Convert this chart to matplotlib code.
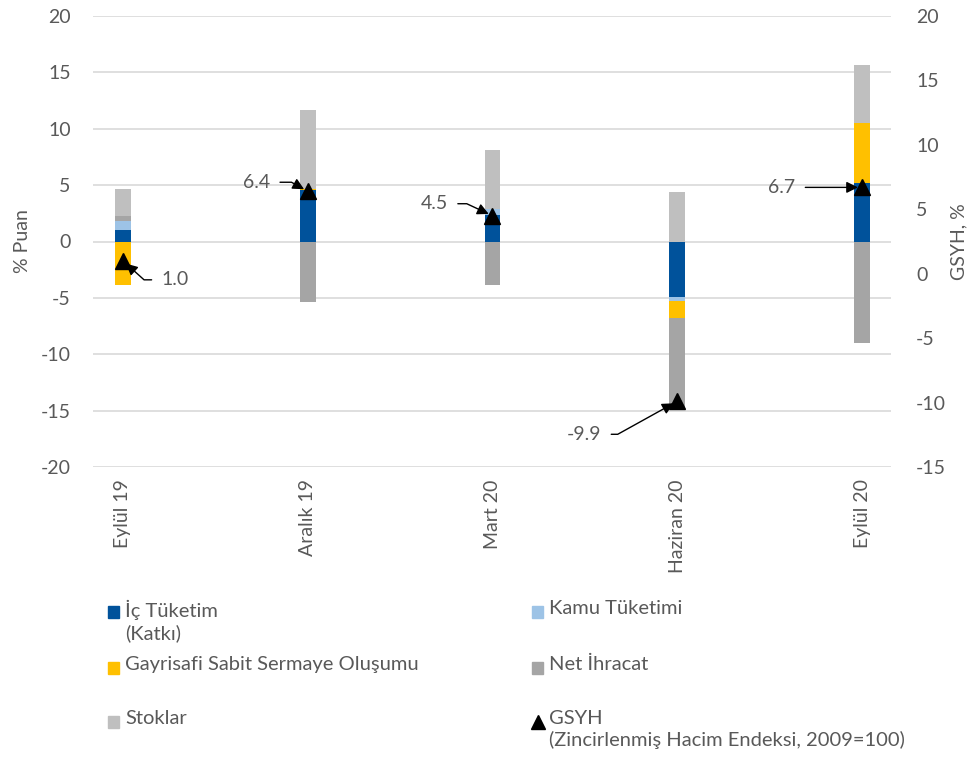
import matplotlib
matplotlib.use("Agg")
import matplotlib.pyplot as plt
from matplotlib.patches import Rectangle
from matplotlib.lines import Line2D
import numpy as np

plt.rcParams['font.family'] = ['Lato', 'DejaVu Sans']
plt.rcParams['axes.unicode_minus'] = False

# Quarterly contributions to GDP growth (percentage points)
categories = ["Eylül 19", "Aralık 19", "Mart 20", "Haziran 20", "Eylül 20"]
ic_tuketim = [1.0, 4.55, 2.35, -4.95, 5.2]
kamu_tuketimi = [0.8, 0.0, 0.5, -0.3, 0.0]
gsso = [-3.85, 0.15, 0.0, -1.5, 5.35]
net_ihracat = [0.5, -5.35, -3.9, -7.9, -9.0]
stoklar = [2.4, 6.95, 5.3, 4.35, 5.1]
gsyh = [1.0, 6.4, 4.5, -9.9, 6.7]

series_names = ["İç Tüketim\n(Katkı)", "Kamu Tüketimi", "Gayrisafi Sabit Sermaye Oluşumu",
                "Net İhracat", "Stoklar"]
series_values = [ic_tuketim, kamu_tuketimi, gsso, net_ihracat, stoklar]
series_colors = ["#00529B", "#9DC3E6", "#FFC000", "#A5A5A5", "#BFBFBF"]
gsyh_name = "GSYH\n(Zincirlenmiş Hacim Endeksi, 2009=100)"

TXT = "#595959"
GRID = "#D9D9D9"
FS = 14

fig = plt.figure(figsize=(9.74, 7.65), dpi=100)
ax = fig.add_axes([93/974, 1-467/765, (891-93)/974, (467-16)/765])
ax2 = ax.twinx()

x = np.arange(len(categories))
pos_base = np.zeros(len(categories))
neg_base = np.zeros(len(categories))
for vals, col in zip(series_values, series_colors):
    v = np.array(vals, dtype=float)
    p = np.where(v > 0, v, 0)
    n = np.where(v < 0, v, 0)
    ax.bar(x, p, bottom=pos_base, width=0.085, color=col, zorder=2)
    ax.bar(x, n, bottom=neg_base, width=0.085, color=col, zorder=2)
    pos_base += p
    neg_base += n

ax.set_xlim(-30/185, 4 + 29/185)
ax.set_ylim(-20, 20)
ax.set_yticks(np.arange(-20, 21, 5))
ax.yaxis.grid(True, color=GRID, lw=1.2, zorder=0)
ax.set_axisbelow(True)
ax.set_xticks(x)
ax.set_xticklabels(categories, rotation=90, va='top', ha='center')
ax.tick_params(axis='both', length=0, colors=TXT, labelsize=FS)
ax.tick_params(axis='x', pad=9)
ax.tick_params(axis='y', pad=16)
for s in ax.spines.values():
    s.set_visible(False)
ax.set_ylabel("% Puan", color=TXT, fontsize=FS, va='center')
ax.yaxis.set_label_coords((22 - 93) / 798, 0.5)

ax2.set_ylim(-15, 20)
ax2.set_yticks(np.arange(-15, 21, 5))
ax2.tick_params(axis='y', length=0, colors=TXT, labelsize=FS, pad=18)
for s in ax2.spines.values():
    s.set_visible(False)
ax2.set_ylabel("GSYH, %", color=TXT, fontsize=FS, rotation=90, va='center', ha='center')
ax2.yaxis.set_label_coords((959 - 93) / 798, 0.5)

ax2.plot(x, gsyh, linestyle='none', marker='^', markersize=12,
         color='black', zorder=5)

# data labels with leader arrows: (offset in pixels, angle of the final segment)
label_specs = [
    ((52, -19), -42),
    ((-51, 9), 151),
    ((-58, 12), 155),
    ((-93, -33), -151),
    ((-80, 0), None),
]
for xi, yi, (off, angB) in zip(x, gsyh, label_specs):
    cs = "arc3,rad=0" if angB is None else f"angle,angleA=0,angleB={angB},rad=0"
    ax2.annotate(f"{yi:.1f}", xy=(xi, yi), xytext=off, textcoords='offset pixels',
                 ha='center', va='center', fontsize=FS, color=TXT, zorder=6,
                 arrowprops=dict(arrowstyle='-|>', color='black', lw=1,
                                 mutation_scale=17, shrinkA=5, shrinkB=3,
                                 connectionstyle=cs))

# legend laid out in two columns, markers aligned with the first text line
legend_items = [
    (series_names[0], series_colors[0], 'sq', 108, 612),
    (series_names[1], series_colors[1], 'sq', 532, 612),
    (series_names[2], series_colors[2], 'sq', 108, 668),
    (series_names[3], series_colors[3], 'sq', 532, 668),
    (series_names[4], series_colors[4], 'sq', 108, 722),
    (gsyh_name, 'black', 'tri', 532, 722),
]
W, H = 974, 765
for label, col, kind, px, py in legend_items:
    if kind == 'sq':
        fig.add_artist(Rectangle((px/W, 1-(py+6)/H), 11/W, 12/H,
                                 transform=fig.transFigure, color=col))
    else:
        fig.add_artist(Line2D([(px+6)/W], [1-py/H], marker='^', markersize=10,
                              color='black', transform=fig.transFigure))
    fig.text((px+17)/W, 1-(py-12)/H, label, ha='left', va='top', fontsize=14.5, color=TXT,
             linespacing=1.25, transform=fig.transFigure)

fig.savefig("out.png", dpi=100)
